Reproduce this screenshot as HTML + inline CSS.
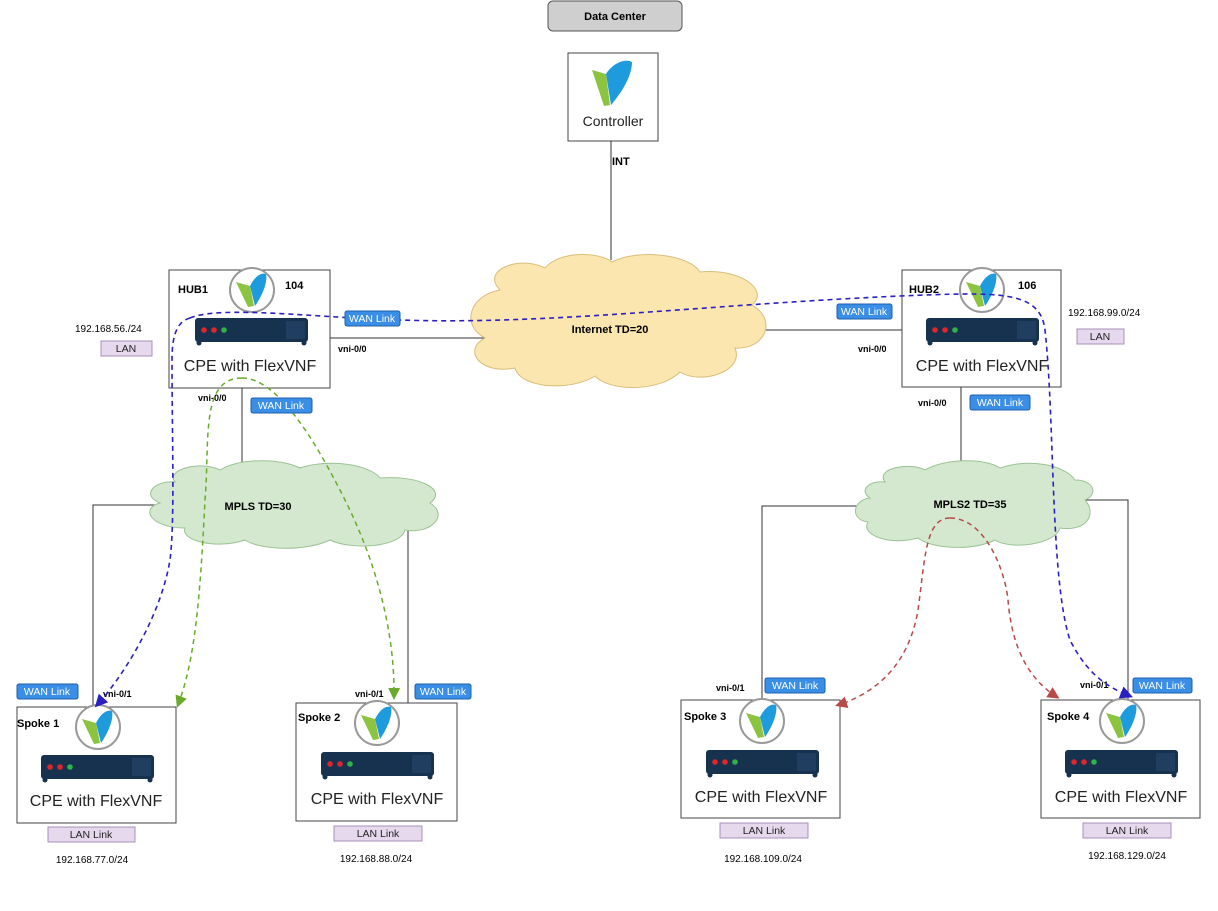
<!DOCTYPE html>
<html><head><meta charset="utf-8"><style>
html,body{margin:0;padding:0;background:#fff;}
svg{display:block;font-family:"Liberation Sans",Arial,sans-serif;}
.b{font-weight:bold;font-size:11px;fill:#000;}
.s{font-size:9px;font-weight:bold;fill:#000;}
.cpe{font-size:16px;fill:#222;}
.wan{fill:#3a8ee6;stroke:#1f5fa8;stroke-width:1;}
.wt{font-size:10.5px;fill:#fff;}
.lan{fill:#e6d9ee;stroke:#a890b8;stroke-width:1;}
.lt{font-size:10.5px;fill:#222;}
</style></head><body>
<svg width="1218" height="911" viewBox="0 0 1218 911" xmlns="http://www.w3.org/2000/svg">
<defs>
<g id="logo">
<circle cx="0" cy="0" r="22" fill="#fff" stroke="#999" stroke-width="2"/>
<path d="M-16,-8 L-2,-4 L2,16 L-4,17 Z" fill="#8cc43f"/>
<path d="M-2,-4 C2,-12 8,-18 14,-16 C16,-8 10,6 3,16 Z" fill="#1e9bdc"/>
</g>
<g id="dev">
<rect x="0" y="0" width="113" height="24" rx="3" fill="#17324f"/>
<rect x="91" y="3" width="19" height="18" fill="#1f3e60"/>
<circle cx="9" cy="12" r="2.8" fill="#e0262a"/>
<circle cx="19" cy="12" r="2.8" fill="#e0262a"/>
<circle cx="29" cy="12" r="2.8" fill="#2fb24a"/>
<circle cx="4" cy="25" r="2.5" fill="#17324f"/>
<circle cx="109" cy="25" r="2.5" fill="#17324f"/>
</g>
<marker id="ab" markerWidth="8" markerHeight="8" refX="6" refY="4" orient="auto"><path d="M0,0 L8,4 L0,8 Z" fill="#2a1fbf"/></marker>
<marker id="ag" markerWidth="8" markerHeight="8" refX="6" refY="4" orient="auto"><path d="M0,0 L8,4 L0,8 Z" fill="#6aaa2a"/></marker>
<marker id="ar" markerWidth="8" markerHeight="8" refX="6" refY="4" orient="auto"><path d="M0,0 L8,4 L0,8 Z" fill="#b84a4a"/></marker>
</defs>

<!-- Data center -->
<rect x="548" y="1" width="134" height="30" rx="5" fill="#cfcfcf" stroke="#555"/>
<text x="615" y="20" class="b" text-anchor="middle">Data Center</text>
<rect x="568" y="53" width="90" height="88" fill="#fff" stroke="#444"/>
<path d="M592,70 L606,74 L610,105 L604,106 Z" fill="#8cc43f"/>
<path d="M606,74 C612,64 624,58 632,62 C632,76 622,92 611,105 Z" fill="#1e9bdc"/>
<text x="613" y="126" font-size="14" fill="#222" text-anchor="middle">Controller</text>
<line x1="611" y1="141" x2="611" y2="260" stroke="#333"/>
<text x="612" y="165" class="b">INT</text>

<!-- lines -->
<line x1="330" y1="338" x2="485" y2="338" stroke="#333"/>
<line x1="735" y1="330" x2="902" y2="330" stroke="#333"/>
<line x1="242" y1="388" x2="242" y2="470" stroke="#333"/>
<line x1="961" y1="387" x2="961" y2="466" stroke="#333"/>
<polyline points="160,505 93,505 93,707" fill="none" stroke="#333"/>
<polyline points="430,508 408,508 408,703" fill="none" stroke="#333"/>
<polyline points="870,506 762,506 762,700" fill="none" stroke="#333"/>
<polyline points="1075,500 1128,500 1128,700" fill="none" stroke="#333"/>

<!-- Internet cloud -->
<path d="M500,290 C480,270 520,255 545,268 C560,250 600,252 612,262 C640,248 690,255 700,272 C740,268 770,290 752,305 C778,320 765,350 735,348 C745,372 700,385 680,372 C660,392 610,392 595,376 C570,392 520,388 515,368 C480,375 462,350 485,338 C460,325 470,295 500,290 Z" fill="#fbe6b0" stroke="#d8be7a"/>
<text x="610" y="333" class="b" text-anchor="middle">Internet TD=20</text>

<!-- MPLS cloud -->
<path d="M175,482 C165,470 200,460 220,470 C240,458 280,458 300,468 C330,458 370,465 380,478 C420,475 448,490 430,503 C450,515 430,535 405,530 C400,548 350,550 330,540 C305,552 260,550 245,540 C215,550 180,540 185,528 C150,528 140,508 160,503 C140,495 155,480 175,482 Z" fill="#d3e8cf" stroke="#9cc294"/>
<text x="258" y="510" class="b" text-anchor="middle">MPLS TD=30</text>

<!-- MPLS2 cloud -->
<path d="M885,482 C875,468 910,462 925,470 C945,458 985,458 1000,468 C1030,458 1065,465 1075,480 C1095,480 1098,495 1085,500 C1098,515 1085,532 1060,528 C1055,545 1010,550 995,540 C970,552 930,548 918,538 C890,546 860,535 868,522 C850,520 852,500 870,498 C858,490 870,480 885,482 Z" fill="#d3e8cf" stroke="#9cc294"/>
<text x="970" y="508" class="b" text-anchor="middle">MPLS2 TD=35</text>

<!-- HUB1 -->
<rect x="169" y="270" width="161" height="118" fill="#fff" stroke="#444"/>
<text x="178" y="293" class="b">HUB1</text>
<text x="285" y="289" class="b">104</text>
<use href="#logo" x="252" y="290"/>
<use href="#dev" x="195" y="318"/>
<text x="250" y="371" class="cpe" text-anchor="middle">CPE with FlexVNF</text>
<text x="338" y="352" class="s">vni-0/0</text>
<text x="198" y="401" class="s">vni-0/0</text>
<text x="75" y="332" font-size="10" fill="#000">192.168.56./24</text>
<rect x="101" y="341" width="51" height="15" class="lan"/><text x="126" y="352" class="lt" text-anchor="middle">LAN</text>

<!-- HUB2 -->
<rect x="902" y="270" width="159" height="117" fill="#fff" stroke="#444"/>
<text x="909" y="293" class="b">HUB2</text>
<text x="1018" y="289" class="b">106</text>
<use href="#logo" x="982" y="290"/>
<use href="#dev" x="926" y="318"/>
<text x="982" y="371" class="cpe" text-anchor="middle">CPE with FlexVNF</text>
<text x="858" y="352" class="s">vni-0/0</text>
<text x="918" y="406" class="s">vni-0/0</text>
<text x="1068" y="316" font-size="10" fill="#000">192.168.99.0/24</text>
<rect x="1077" y="329" width="47" height="15" class="lan"/><text x="1100" y="340" class="lt" text-anchor="middle">LAN</text>

<!-- Spokes -->
<rect x="17" y="707" width="159" height="116" fill="#fff" stroke="#444"/>
<text x="17" y="727" class="b">Spoke 1</text>
<use href="#logo" x="98" y="727"/>
<use href="#dev" x="41" y="755"/>
<text x="96" y="806" class="cpe" text-anchor="middle">CPE with FlexVNF</text>
<text x="103" y="697" class="s">vni-0/1</text>

<rect x="296" y="703" width="161" height="118" fill="#fff" stroke="#444"/>
<text x="298" y="721" class="b">Spoke 2</text>
<use href="#logo" x="377" y="723"/>
<use href="#dev" x="321" y="752"/>
<text x="377" y="804" class="cpe" text-anchor="middle">CPE with FlexVNF</text>
<text x="355" y="697" class="s">vni-0/1</text>

<rect x="681" y="700" width="159" height="118" fill="#fff" stroke="#444"/>
<text x="684" y="720" class="b">Spoke 3</text>
<use href="#logo" x="762" y="721"/>
<use href="#dev" x="706" y="750"/>
<text x="761" y="802" class="cpe" text-anchor="middle">CPE with FlexVNF</text>
<text x="716" y="691" class="s">vni-0/1</text>

<rect x="1041" y="700" width="159" height="118" fill="#fff" stroke="#444"/>
<text x="1047" y="720" class="b">Spoke 4</text>
<use href="#logo" x="1122" y="721"/>
<use href="#dev" x="1065" y="750"/>
<text x="1121" y="802" class="cpe" text-anchor="middle">CPE with FlexVNF</text>
<text x="1080" y="688" class="s">vni-0/1</text>

<!-- LAN link badges & IPs -->
<rect x="48" y="827" width="87" height="15" class="lan"/><text x="91" y="838" class="lt" text-anchor="middle">LAN Link</text>
<rect x="334" y="826" width="88" height="15" class="lan"/><text x="378" y="837" class="lt" text-anchor="middle">LAN Link</text>
<rect x="720" y="823" width="88" height="15" class="lan"/><text x="764" y="834" class="lt" text-anchor="middle">LAN Link</text>
<rect x="1083" y="823" width="88" height="15" class="lan"/><text x="1127" y="834" class="lt" text-anchor="middle">LAN Link</text>
<text x="92" y="863" font-size="10" text-anchor="middle">192.168.77.0/24</text>
<text x="376" y="862" font-size="10" text-anchor="middle">192.168.88.0/24</text>
<text x="763" y="862" font-size="10" text-anchor="middle">192.168.109.0/24</text>
<text x="1127" y="859" font-size="10" text-anchor="middle">192.168.129.0/24</text>

<!-- dashed paths -->
<path d="M190,318 C220,305 320,318 400,320 C550,325 700,305 900,296 C1000,292 1040,290 1045,330 C1055,420 1050,580 1070,640 C1090,680 1115,690 1130,696" fill="none" stroke="#2a1fbf" stroke-width="1.6" stroke-dasharray="5,4" marker-end="url(#ab)"/>
<path d="M190,318 C175,322 172,340 172,360 C172,440 175,520 170,560 C160,620 120,680 97,705" fill="none" stroke="#2a1fbf" stroke-width="1.6" stroke-dasharray="5,4" marker-end="url(#ab)"/>
<path d="M242,378 C200,378 210,440 205,500 C200,600 195,660 178,705" fill="none" stroke="#6aaa2a" stroke-width="1.5" stroke-dasharray="5,4" marker-end="url(#ag)"/>
<path d="M242,378 C280,378 320,450 345,500 C380,570 395,640 394,697" fill="none" stroke="#6aaa2a" stroke-width="1.5" stroke-dasharray="5,4" marker-end="url(#ag)"/>
<path d="M950,518 C925,518 925,560 918,610 C908,670 870,695 838,705" fill="none" stroke="#b84a4a" stroke-width="1.5" stroke-dasharray="5,4" marker-end="url(#ar)"/>
<path d="M950,518 C985,518 1005,570 1008,600 C1012,650 1030,680 1057,697" fill="none" stroke="#b84a4a" stroke-width="1.5" stroke-dasharray="5,4" marker-end="url(#ar)"/>

<!-- WAN link badges -->
<rect x="345" y="311" width="55" height="15" rx="2" class="wan"/><text x="372" y="322" class="wt" text-anchor="middle">WAN Link</text>
<rect x="837" y="304" width="55" height="15" rx="2" class="wan"/><text x="864" y="315" class="wt" text-anchor="middle">WAN Link</text>
<rect x="251" y="398" width="61" height="15" rx="2" class="wan"/><text x="281" y="409" class="wt" text-anchor="middle">WAN Link</text>
<rect x="970" y="395" width="60" height="15" rx="2" class="wan"/><text x="1000" y="406" class="wt" text-anchor="middle">WAN Link</text>
<rect x="17" y="684" width="61" height="15" rx="2" class="wan"/><text x="47" y="695" class="wt" text-anchor="middle">WAN Link</text>
<rect x="415" y="684" width="56" height="15" rx="2" class="wan"/><text x="443" y="695" class="wt" text-anchor="middle">WAN Link</text>
<rect x="765" y="678" width="60" height="15" rx="2" class="wan"/><text x="795" y="689" class="wt" text-anchor="middle">WAN Link</text>
<rect x="1133" y="678" width="59" height="15" rx="2" class="wan"/><text x="1162" y="689" class="wt" text-anchor="middle">WAN Link</text>
</svg>
</body></html>
